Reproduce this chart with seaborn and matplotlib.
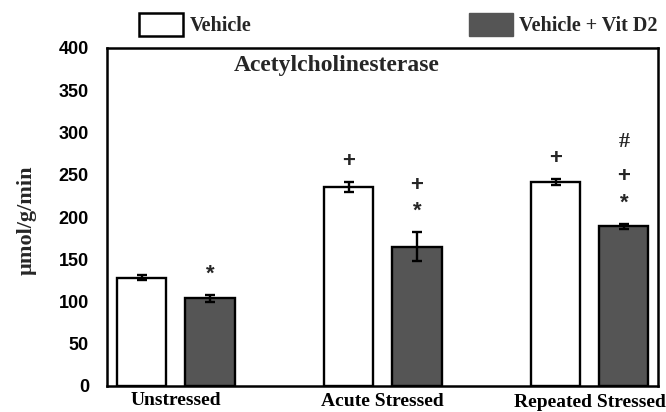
import matplotlib
matplotlib.use("Agg")
import matplotlib.pyplot as plt
import matplotlib.patches as mpatches
import matplotlib.transforms as mtransforms
from matplotlib.font_manager import FontProperties
import seaborn as sns
import pandas as pd

# ---------------- data ----------------
groups = ["Unstressed", "Acute Stressed", "Repeated Stressed"]
treatments = ["Vehicle", "Vehicle + Vit D2"]
vehicle_mean = [128, 235, 241]
vehicle_err = [3, 6, 3.5]
vitd2_mean = [104, 165, 189]
vitd2_err = [4, 17, 3]
vehicle_marks = [[], ["+"], ["+"]]
vitd2_marks = [["*"], ["*", "+"], ["*", "+", "#"]]
title_text = "Acetylcholinesterase"
ylabel_text = "\u00b5mol/g/min"
yticks = [0, 50, 100, 150, 200, 250, 300, 350, 400]

# ---------------- style ----------------
sns.set_theme(style="white")
plt.rcParams["font.family"] = ["Liberation Serif", "DejaVu Serif"]
serif_bold = dict(family=["Liberation Serif", "DejaVu Serif"], weight="bold")
sans_bold = dict(family=["Liberation Sans", "DejaVu Sans"], weight="bold")
colors = {"Vehicle": "#ffffff", "Vehicle + Vit D2": "#555555"}

df = pd.DataFrame({
    "group": groups * 2,
    "treatment": [t for t in treatments for _ in groups],
    "value": vehicle_mean + vitd2_mean,
})

fig = plt.figure(figsize=(6.66, 4.12), dpi=100)
ax = fig.add_axes([107 / 666, 1 - 386 / 412, 551 / 666, 338 / 412])

sns.barplot(data=df, x="group", y="value", hue="treatment", order=groups,
            hue_order=treatments, palette=colors, width=0.66, gap=0.28,
            edgecolor="black", linewidth=1.7, errorbar=None, legend=False, ax=ax)

bar_containers = list(ax.containers)
means = [vehicle_mean, vitd2_mean]
errs = [vehicle_err, vitd2_err]
marks = [vehicle_marks, vitd2_marks]
mark_offsets_px = [21, 47, 82]
for ci, cont in enumerate(bar_containers):
    centers = [p.get_x() + p.get_width() / 2 for p in cont]
    ax.errorbar(centers, means[ci], yerr=errs[ci], fmt="none", ecolor="black",
                elinewidth=1.7, capsize=3.5, capthick=1.7, zorder=5)
    for xi, m, e, syms in zip(centers, means[ci], errs[ci], marks[ci]):
        for k, s in enumerate(syms):
            fp = serif_bold if s == "#" else sans_bold
            ax.annotate(s, xy=(xi, m + e), xytext=(0, mark_offsets_px[k] * 0.72),
                        textcoords="offset points", ha="center", va="center",
                        fontsize=16, **fp)

ax.set_ylim(0, 400)
ax.set_xlim(-0.333, 2.33)
ax.set_yticks(yticks)
ax.set_yticklabels([str(v) for v in yticks], fontsize=13, **sans_bold)
ax.set_xticks(range(len(groups)))
ax.set_xticklabels(groups, fontsize=14, **serif_bold)
ax.tick_params(axis="x", length=0, pad=4, colors="black")
ax.tick_params(axis="y", length=0, pad=13, colors="black")
ax.set_xlabel("")
ax.set_ylabel(ylabel_text, fontsize=16, va="center", **serif_bold)
ax.yaxis.set_label_coords(-0.145, 0.49)
for i, lab in enumerate(ax.get_xticklabels()):
    dy = [0, -1, -2][i]
    lab.set_transform(lab.get_transform() + mtransforms.Affine2D().translate(0, dy))

for sp in ax.spines.values():
    sp.set_visible(True)
    sp.set_color("black")
    sp.set_linewidth(1.8)

ax.text(0.417, 0.947, title_text, transform=ax.transAxes, ha="center", va="center",
        fontsize=17, **serif_bold)

handles = [
    mpatches.Patch(facecolor=colors["Vehicle"], edgecolor="black", linewidth=1.8),
    mpatches.Patch(facecolor=colors["Vehicle + Vit D2"], edgecolor="#555555", linewidth=1.0),
]
fig.legend(handles, treatments, loc="upper left", bbox_to_anchor=(139 / 666, 1 - 13 / 412),
           ncol=2, frameon=False, handlelength=2.2, handleheight=1.35, handletextpad=0.3,
           columnspacing=10.8, borderpad=0, borderaxespad=0,
           prop=FontProperties(family=["Liberation Serif", "DejaVu Serif"], weight="bold", size=14.5))

fig.savefig("out.png", dpi=100)
